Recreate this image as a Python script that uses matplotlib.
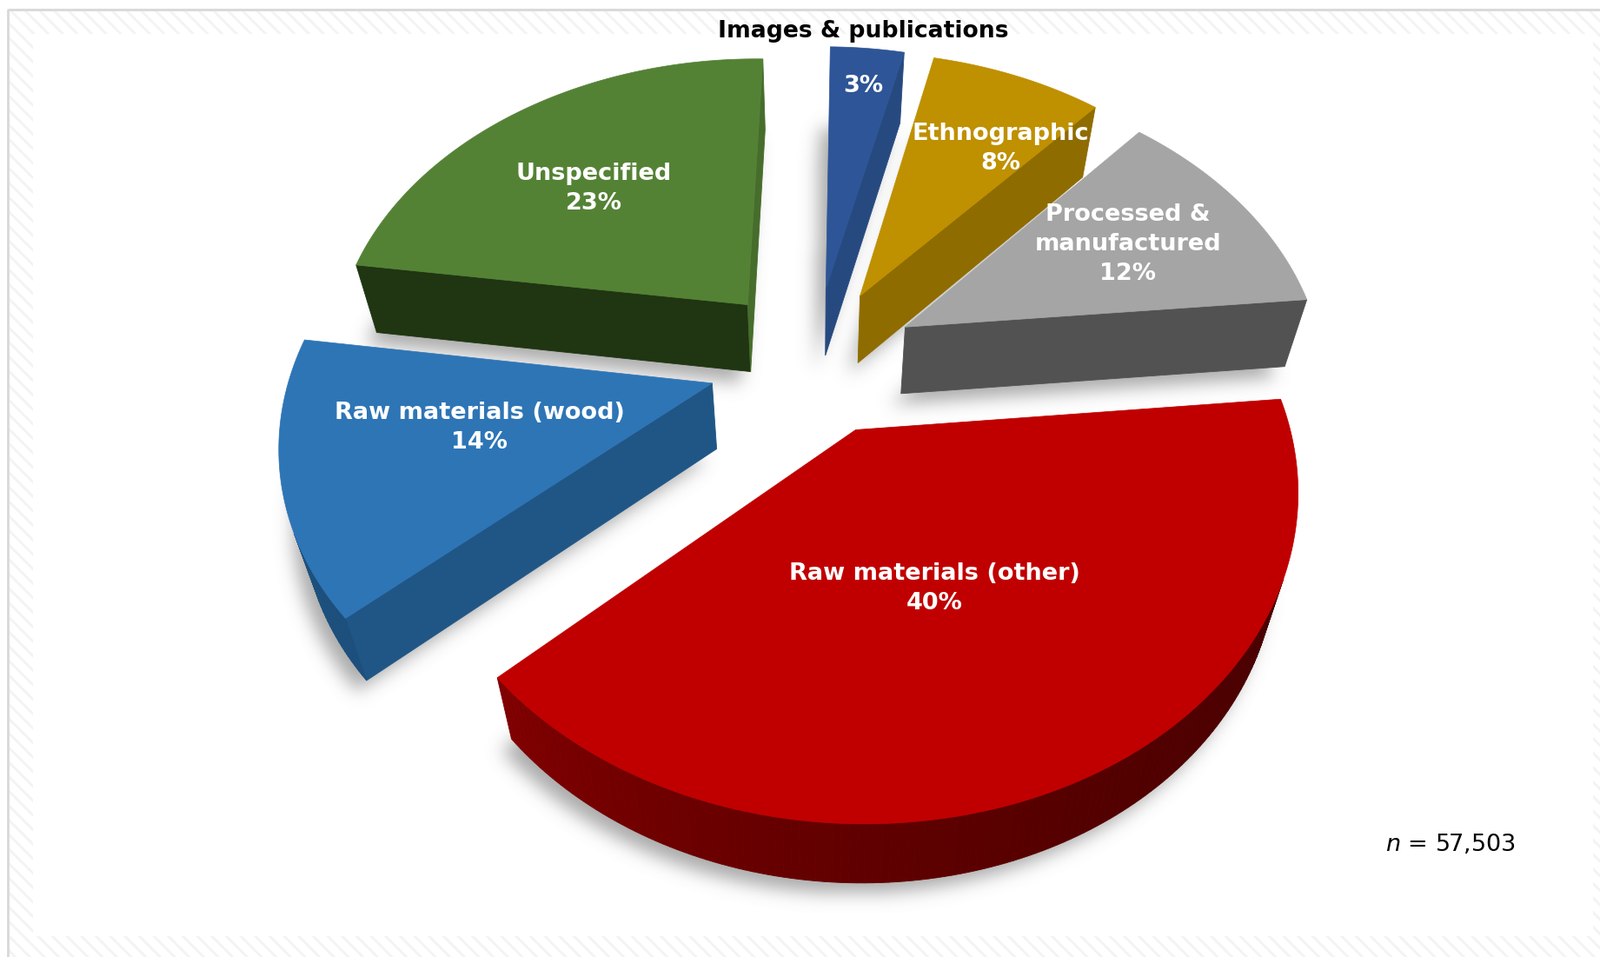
"""Exploded 3D style pie drawn by hand with polygons (matplotlib has no 3D pie)."""
import numpy as np
import matplotlib
matplotlib.use("Agg")
import matplotlib.pyplot as plt
from matplotlib.colors import to_rgb
from matplotlib.patches import Rectangle
from matplotlib.path import Path

names = ["Images & publications", "Ethnographic", "Processed &\nmanufactured",
         "Raw materials (other)", "Raw materials (wood)", "Unspecified"]
values = [3.4, 7.9, 11.9, 39.8, 14.0, 23.0]
n_text = r"$\mathit{n}$ = 57,503"

start_deg = 1.0
explode = [0.25, 0.25, 0.25, 0.24, 0.25, 0.25]
tops = ["#2E5597", "#BF9000", "#A5A5A5", "#C00000", "#2E75B6", "#548235"]
wall_start = ["#264A80", "#8F6C00", "#525252", "#7F0000", "#205685", "#203512"]
wall_end = ["#264A80", "#8F6C00", "#525252", "#7F0000", "#205685", "#466D2C"]
arc_a = ["#264A80", "#8F6C00", "#525252", "#470000", "#1C4F7C", "#203512"]
arc_b = ["#264A80", "#8F6C00", "#525252", "#800000", "#245E90", "#203512"]

label_pos = [(993, 99), (1151, 171), (1298, 281), (1075, 677), (552, 492), (683, 217)]

W, H = 1841, 1101
CX, CY, RX, RY, PERSP = 936, 415, 482, 349, 0.165


def project(x, y):
    p = 1 / (1 + PERSP * y)
    return CX + RX * x * p, CY - RY * y * p


def lower(X, Y):
    return CX + (X - CX) * 0.955, CY + (Y - CY) * 0.985 + 76


def mix(a, b, t):
    a, b = np.array(to_rgb(a)), np.array(to_rgb(b))
    return tuple(a + (b - a) * t)


fig = plt.figure(figsize=(W / 100, H / 100), dpi=100)
ax = fig.add_axes([0, 0, 1, 1])
ax.set_xlim(0, W)
ax.set_ylim(H, 0)
ax.axis("off")

# hatched surround
plt.rcParams["hatch.linewidth"] = 2.0
ax.add_patch(Rectangle((9, 11), W, H, fc="white", ec="#F3F3F3", lw=2, hatch="\\\\", zorder=0))
ax.add_patch(Rectangle((9, 11), W, H, fc="none", ec="#D9D9D9", lw=2, zorder=0.1))
ax.add_patch(Rectangle((38, 39), 1795, 1038, fc="white", ec="none", zorder=0.2))

# slice outlines
edges = np.radians(start_deg) + np.cumsum([0] + values) / sum(values) * 2 * np.pi
slices = []
for i in range(len(values)):
    th = np.linspace(edges[i], edges[i + 1], max(int(values[i]) * 4, 12))
    mid = (edges[i] + edges[i + 1]) / 2
    ox, oy = explode[i] * np.sin(mid), explode[i] * np.cos(mid)
    x = np.r_[ox, ox + np.sin(th)]
    y = np.r_[oy, oy + np.cos(th)]
    X, Y = project(x, y)
    slices.append((X, Y, mid))

# soft shadow from the lower outlines
yy, xx = np.mgrid[0:H:2, 0:W:2]
grid = np.c_[xx.ravel(), yy.ravel()]
mask = np.zeros(xx.shape)
for X, Y, mid in slices:
    bx, by = lower(X, Y)
    inside = Path(np.c_[bx - 12, by + 12]).contains_points(grid)
    mask = np.maximum(mask, inside.reshape(xx.shape).astype(float))
fy = np.fft.fftfreq(mask.shape[0])[:, None]
fx = np.fft.fftfreq(mask.shape[1])[None, :]
sigma = 5.0
blur = np.fft.ifft2(np.fft.fft2(mask) * np.exp(-2 * (np.pi * sigma) ** 2 * (fx ** 2 + fy ** 2))).real
rgba = np.zeros(mask.shape + (4,))
rgba[..., :3] = 0.45
rgba[..., 3] = np.clip(blur, 0, 1) * 0.6
ax.imshow(rgba, extent=(0, W, H, 0), zorder=1, aspect="auto", interpolation="bilinear")
ax.set_xlim(0, W)
ax.set_ylim(H, 0)

# back slices first
order = sorted(range(len(values)), key=lambda k: -np.cos(slices[k][2]))
z = 2
for i in order:
    X, Y, mid = slices[i]
    bx, by = lower(X, Y)
    n = len(X)
    for j in range(n):
        k = (j + 1) % n
        qx = [X[j], X[k], bx[k], bx[j]]
        qy = [Y[j], Y[k], by[k], by[j]]
        area = sum(qx[m] * qy[(m + 1) % 4] - qx[(m + 1) % 4] * qy[m] for m in range(4))
        if area >= 0:
            continue
        if j == 0:
            col = wall_start[i]
        elif j == n - 1:
            col = wall_end[i]
        else:
            col = mix(arc_a[i], arc_b[i], (j / (n - 2)) ** 2)
        ax.fill(qx, qy, fc=col, ec=col, lw=0.6, zorder=z)
    ax.fill(X, Y, fc=tops[i], ec=tops[i], lw=0.5, zorder=z + 1)
    z += 2

pct = [f"{round(v)}%" for v in values]
for i, (px, py) in enumerate(label_pos):
    txt = pct[i] if i == 0 else names[i] + "\n" + pct[i]
    ax.text(px, py, txt, color="white", fontweight="bold", fontsize=19.5, ha="center", va="center",
            linespacing=1.4, zorder=50)

ax.text(993, 36, names[0], color="black", fontweight="bold", fontsize=19.2, ha="center", va="center", zorder=50)
plt.rcParams["mathtext.fontset"] = "dejavusans"
ax.text(1669, 972, n_text, color="black", fontsize=19.5, ha="center", va="center", zorder=50)

fig.savefig("out.png", dpi=100)
